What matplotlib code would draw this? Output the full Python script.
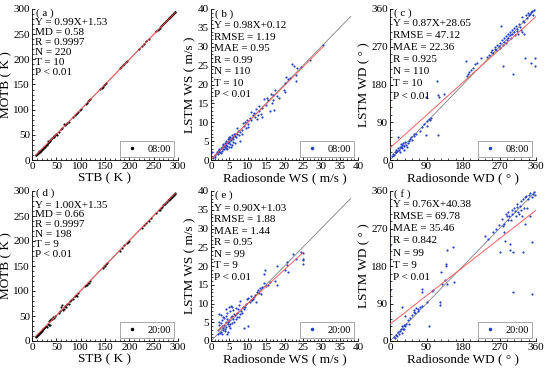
import numpy as np
import matplotlib
matplotlib.use("Agg")
import matplotlib.pyplot as plt
from matplotlib.ticker import MultipleLocator
from matplotlib.lines import Line2D

plt.rcParams['font.family'] = ['Liberation Serif', 'DejaVu Serif']

# ---------------- data ----------------
a_pts = [(8,9),(9,10),(10,11),(11,12),(12,13),(12,14),(13,13),(14,15),(15,16),(15,17),(16,15),(17,18),(18,19),(18,20),
         (19,18),(20,21),(21,22),(22,24),(23,22),(24,25),(25,26),(26,25),(27,28),(28,29),(30,31),(31,30),(32,37),(33,34),
         (35,36),(36,40),(38,37),(40,41),(42,43),(44,45),(45,47),(46,46),(48,49),(50,51),(52,50),(55,56),(60,61),(62,63),
         (65,72),(68,70),(70,71),(72,74),(75,76),(85,86),(88,89),(90,91),(92,93),(95,96),(98,99),(100,101),(110,112),
         (112,113),(115,118),(118,119),(120,121),(140,142),(143,144),(145,146),(148,149),(150,151),(152,153),(180,182),
         (183,184),(186,188),(190,191),(193,194),(196,197),(220,221),(225,226),(230,231),(235,236),(240,241),(255,256),
         (258,259),(260,261),(262,263),(265,266),(268,269),(270,271),(272,273),(274,275),(276,277),(278,279),(280,281),
         (281,282),(282,283),(283,284),(284,285),(285,286),(286,287),(287,288),(288,289),(289,290),(290,291),(291,292),
         (292,293),(293,294),(294,295)]
d_pts = [(8,9),(9,11),(10,11),(11,13),(12,12),(13,15),(14,14),(15,17),(16,16),(17,19),(18,18),(19,21),(20,22),(21,21),
         (22,25),(23,24),(24,27),(25,26),(26,28),(28,30),(30,29),(32,35),(34,33),(35,40),(36,32),(38,42),(40,45),(42,44),
         (44,48),(45,46),(48,50),(55,57),(58,60),(60,68),(62,72),(64,63),(66,65),(68,70),(70,69),(72,75),(75,74),(78,80),
         (80,82),(85,84),(88,90),(90,93),(92,91),(95,96),(108,110),(110,112),(112,113),(115,117),(118,116),(120,121),
         (145,146),(148,150),(150,151),(152,154),(155,157),(180,181),(185,186),(190,192),(195,197),(198,199),(200,201),
         (225,226),(230,232),(235,236),(240,241),(245,246),(255,257),(260,262),(262,263),(265,267),(268,269),(270,272),
         (272,274),(274,275),(276,278),(278,279),(280,282),(281,283),(282,284),(283,285),(284,286),(285,287),(286,288),
         (287,289),(288,290),(289,291),(290,292),(291,293),(292,294),(293,295),(294,296)]
b_pts = [(0.3,2.0),(0.5,0.5),(1,1.2),(1.5,1.8),(1.8,2.5),(2,1.5),(2.2,3.0),(2.5,2.2),(2.7,3.3),(3,2.5),(3,3.5),(3.2,4.0),
         (3.5,3.0),(3.6,3.8),(3.8,4.5),(4,3.2),(4,4.0),(4.2,5.0),(4.3,3.7),(4.5,4.4),(4.6,5.5),(4.8,3.5),(5,4.8),(5,5.8),
         (5.2,4.2),(5.3,6.2),(5.5,5.2),(5.6,4.0),(5.8,6.5),(6,5.5),(6.2,6.8),(6.5,4.5),(6.8,6.0),(7,7.0),(7.2,8.5),(7.5,6.5),
         (7.8,5.0),(8,7.5),(8.3,8.0),(8.5,7.0),(9,9.0),(9.2,10.0),(9.5,8.5),(10,9.5),(10.5,11.0),(10.8,12.8),(11,10.5),
         (11.5,12.0),(12,11.5),(12.3,13.5),(12.5,10.8),(13,13.0),(13,14.2),(13.5,12.2),(14,13.8),(14.5,16.2),(15,14.5),
         (15.5,15.8),(16,13.0),(16.2,17.5),(16.5,15.0),(17,16.0),(17.2,13.2),(17.5,18.5),(18,17.0),(18.5,16.5),(20,18.0),
         (20,20.3),(20.5,22.0),(21,21.5),(22,25.3),(22.5,25.0),(23,22.5),(23.2,21.0),(23.5,24.5),(24.5,24.6),(27,26.5),
         (30.5,30.5),(2.3,2.6),(2.8,1.8),(3.3,2.8),(3.9,3.5),(4.1,4.6),(4.4,3.0),(4.7,4.9),(5.1,5.3),(5.4,3.5),(5.7,5.7),
         (6.1,6.0),(6.4,6.3),(1.2,0.8),(1.6,2.2),(2.1,2.0),(3.4,4.3),(4.9,6.0),(5.9,4.8),(6.6,7.0),(7.4,7.8),(8.8,9.8),
         (11.8,12.5),(13.8,11.5),(15.2,16.5),(16.8,17.2),(19.8,18.5),(21.5,21.8),(9.8,10.5),(10.2,8.8),(12.8,12.0)]
e_pts = [(2,2),(2,3),(2.1,4.4),(2.2,7.3),(2.3,5.0),(2.5,3.5),(2.6,7.0),(2.8,2.5),(3,4),(3,5.5),(3.2,3.0),(3.3,6.5),
         (3.5,6.1),(3.6,4.2),(3.8,2.8),(3.9,3.1),(4,5),(4,8.5),(4.2,3.8),(4.3,6.0),(4.4,7.5),(4.4,1.8),(4.5,4.5),(4.6,2.5),
         (4.8,4.0),(5,5.5),(5,9),(5.2,3.5),(5.3,7.9),(5.4,6.5),(5.5,9.3),(5.6,4.8),(5.8,9.2),(6,6),(6,8.2),(6.2,5.2),
         (6.5,7.0),(6.7,8.8),(7,6.5),(7.2,7.5),(7.5,9.7),(7.8,7.2),(8,10.6),(8.2,8.0),(8.5,7.5),(9,3.4),(9,8.5),(9.2,9.2),
         (9.5,10.0),(9.7,11.1),(10,11.5),(10.2,4.0),(10.5,10.5),(10.8,12.0),(11,11.0),(11.1,10.9),(11.5,11.2),(12,12.2),
         (12.2,10.5),(12.5,13.0),(12.9,13.6),(13.2,14.2),(13.5,12.5),(13.8,14.5),(14.3,15.4),(14.5,18.0),(14.7,18.9),
         (15,14.8),(16.1,15.8),(17.4,16.1),(17.9,20.0),(18,15),(20,19),(20.6,20.2),(20.6,21.1),(21,18.5),(22.4,23.2),
         (23,22),(24.9,22.0),(24.9,21.5),(25.1,23.5),(25,20.5),(24.5,23.8),(2.4,2.2),(3.4,3.6),(4.7,5.2),(5.8,6.8),
         (6.3,7.3),(7.3,8.6),(8.7,9.0),(3.1,2.0),(2.7,4.8),(4.1,6.8),(5.1,4.5),(6.8,5.8),(7.6,6.5),(11.8,11.8),(13,12.9),
         (15.5,15.0)]
c_pts = [(5,10),(8,15),(10,12),(12,20),(15,18),(15,25),(18,22),(20,28),(20,55),(22,25),(24,32),(25,20),(26,38),(28,30),
         (30,35),(30,28),(32,40),(34,33),(35,25),(38,42),(40,36),(42,30),(45,40),(48,45),(50,50),(52,55),(55,48),(58,62),
         (60,58),(65,62),(75,70),(80,78),(85,85),(88,60),(90,92),(92,80),(95,97),(98,95),(100,100),(118,60),(117,188),
         (118,155),(122,150),(133,157),(88,150),(0,127),(188,236),(190,200),(192,205),(195,210),(200,215),(205,220),
         (210,228),(215,232),(225,243),(240,245),(245,250),(250,258),(252,262),(255,255),(258,265),(260,270),(262,262),
         (265,275),(268,272),(270,280),(272,268),(274,320),(275,285),(278,275),(280,290),(282,282),(285,295),(286,278),
         (288,285),(290,300),(292,290),(295,305),(296,298),(298,292),(300,310),(302,300),(304,204),(305,315),(306,305),
         (308,298),(310,320),(312,308),(314,312),(316,300),(318,325),(320,318),(322,310),(325,306),(326,340),(328,332),
         (330,328),(332,242),(335,345),(338,338),(340,350),(342,345),(345,348),(347,232),(348,352),(350,355),(352,345),
         (355,358),(358,243),(358,225),(279,225),(330,300)]
f_pts = [(10,10),(12,8),(14,15),(18,12),(20,22),(22,18),(25,25),(28,30),(30,20),(30,35),(32,28),(34,38),(35,30),(36,60),
         (38,35),(40,42),(45,50),(48,40),(50,55),(55,62),(58,70),(60,75),(62,68),(65,80),(68,72),(70,78),(75,82),(80,85),
         (30,82),(0,122),(0,230),(0,216),(95,37),(91,94),(78,126),(78,118),(103,120),(105,122),(123,94),(123,86),(128,138),
         (140,218),(139,186),(139,179),(126,165),(156,226),(135,146),(140,136),(158,142),(234,253),(242,245),(255,262),
         (262,270),(268,278),(271,214),(275,294),(278,275),(280,282),(282,262),(284,240),(286,305),(288,300),(290,290),
         (292,310),(294,300),(296,234),(296,219),(298,290),(300,315),(302,305),(304,118),(304,214),(306,320),(308,312),
         (310,300),(312,322),(314,330),(316,310),(318,305),(320,325),(322,335),(324,315),(326,300),(328,340),(329,214),
         (330,320),(332,345),(334,280),(336,348),(338,320),(340,340),(342,350),(345,300),(346,355),(349,238),(349,114),
         (350,345),(352,352),(355,358),(358,350)]

slopes = [0.99, 0.98, 0.87, 1.00, 0.90, 0.76]
intercepts = [1.53, 0.12, 28.65, 1.35, 1.03, 40.38]
times = ["08:00", "08:00", "08:00", "20:00", "20:00", "20:00"]
stats = [
    ["( a )", "Y = 0.99X+1.53", "MD = 0.58", "R = 0.9997", "N = 220", "T = 10", "P < 0.01"],
    ["( b )", "Y = 0.98X+0.12", "RMSE = 1.19", "MAE = 0.95", "R = 0.99", "N = 110", "T = 10", "P < 0.01"],
    ["( c )", "Y = 0.87X+28.65", "RMSE = 47.12", "MAE = 22.36", "R = 0.925", "N = 110", "T = 10", "P < 0.01"],
    ["( d )", "Y = 1.00X+1.35", "MD = 0.66", "R = 0.9997", "N = 198", "T = 9", "P < 0.01"],
    ["( e )", "Y = 0.90X+1.03", "RMSE = 1.88", "MAE = 1.44", "R = 0.95", "N = 99", "T = 9", "P < 0.01"],
    ["( f )", "Y = 0.76X+40.38", "RMSE = 69.78", "MAE = 35.46", "R = 0.842", "N = 99", "T = 9", "P < 0.01"],
]
xlabels = ["STB ( K )", "Radiosonde WS ( m/s )", "Radiosonde WD ( ° )"] * 2
ylabels = ["MOTB ( K )", "LSTM WS ( m/s )", "LSTM WD ( ° )"] * 2
limits = [300, 40, 360] * 2
majors = [50, 5, 90] * 2
all_pts = [a_pts, b_pts, c_pts, d_pts, e_pts, f_pts]

# ---------------- layout ----------------
W, H = 550, 371
fig = plt.figure(figsize=(5.5, 3.71), dpi=100)
lefts = [32, 211, 390]
widths = [146, 147, 146]
tops = [9, 191]
heights = [151, 150]
# text layout: (first-line offset px, second line offset px, spacing px)
txt_layout = [(4.5, 13.8, 10.0), (5, 17, 11.4), (4, 14, 12.2), (2.5, 14, 9.9), (4, 17.3, 11.5), (3, 13.3, 12.2)]

for i in range(6):
    r, c = divmod(i, 3)
    l, w = lefts[c], widths[c]
    t, h = tops[r], heights[r]
    ax = fig.add_axes([l / W, 1 - (t + h) / H, w / W, h / H])
    pts = np.array(all_pts[i], dtype=float)
    x, y = pts[:, 0], pts[:, 1]
    col = 'black' if c == 0 else '#1f3fc8'
    lim = limits[i]
    # 1:1 line
    if c == 1:
        ax.plot([0, 38], [0, 38], color='#808080', lw=0.6, zorder=1)
    else:
        ax.plot([x.min(), x.max()], [x.min(), x.max()], color='#808080', lw=0.6, zorder=1)
    ax.scatter(x, y, s=2.4, color=col, linewidths=0, zorder=2)
    xf = np.array([x.min(), x.max()]) if c != 2 else np.array([0, lim])
    ax.plot(xf, slopes[i] * xf + intercepts[i], color='#ff5050', lw=0.7, alpha=0.9, zorder=3)
    ax.set_xlim(0, lim)
    ax.set_ylim(0, lim)
    ax.xaxis.set_major_locator(MultipleLocator(majors[i]))
    ax.yaxis.set_major_locator(MultipleLocator(majors[i]))
    ax.xaxis.set_minor_locator(MultipleLocator(majors[i] / 5))
    ax.yaxis.set_minor_locator(MultipleLocator(majors[i] / 5))
    ax.tick_params(which='both', direction='in', labelsize=8, pad=1.5)
    ax.tick_params(which='major', length=2.5, width=0.6)
    ax.tick_params(which='minor', length=1.3, width=0.5)
    for s in ['top', 'right']:
        ax.spines[s].set_visible(False)
    for s in ['left', 'bottom']:
        ax.spines[s].set_linewidth(0.6)
    ax.set_xlabel(xlabels[i], fontsize=9.5, labelpad=1)
    ax.set_ylabel(ylabels[i], fontsize=9.5, labelpad=1)
    # stats text
    f0, f1, sp = txt_layout[i]
    for k, line in enumerate(stats[i]):
        off = f0 if k == 0 else f1 + (k - 1) * sp
        xo = 4.5 if k == 0 else 3.0
        ax.text(xo / w, 1 - off / h, line, transform=ax.transAxes, fontsize=8.0,
                ha='left', va='center')
    handle = Line2D([], [], ls='none', marker='o', markersize=1.5, color=col)
    leg = ax.legend([handle], [times[i]], loc='lower right', bbox_to_anchor=(0.995, 0.0),
                    fontsize=7.5, frameon=True, fancybox=False, handlelength=1.8,
                    handletextpad=0.6, borderpad=0.3, borderaxespad=0.3)
    leg.get_frame().set_edgecolor('#808080')
    leg.get_frame().set_linewidth(0.6)

fig.savefig("out.png", dpi=100)
